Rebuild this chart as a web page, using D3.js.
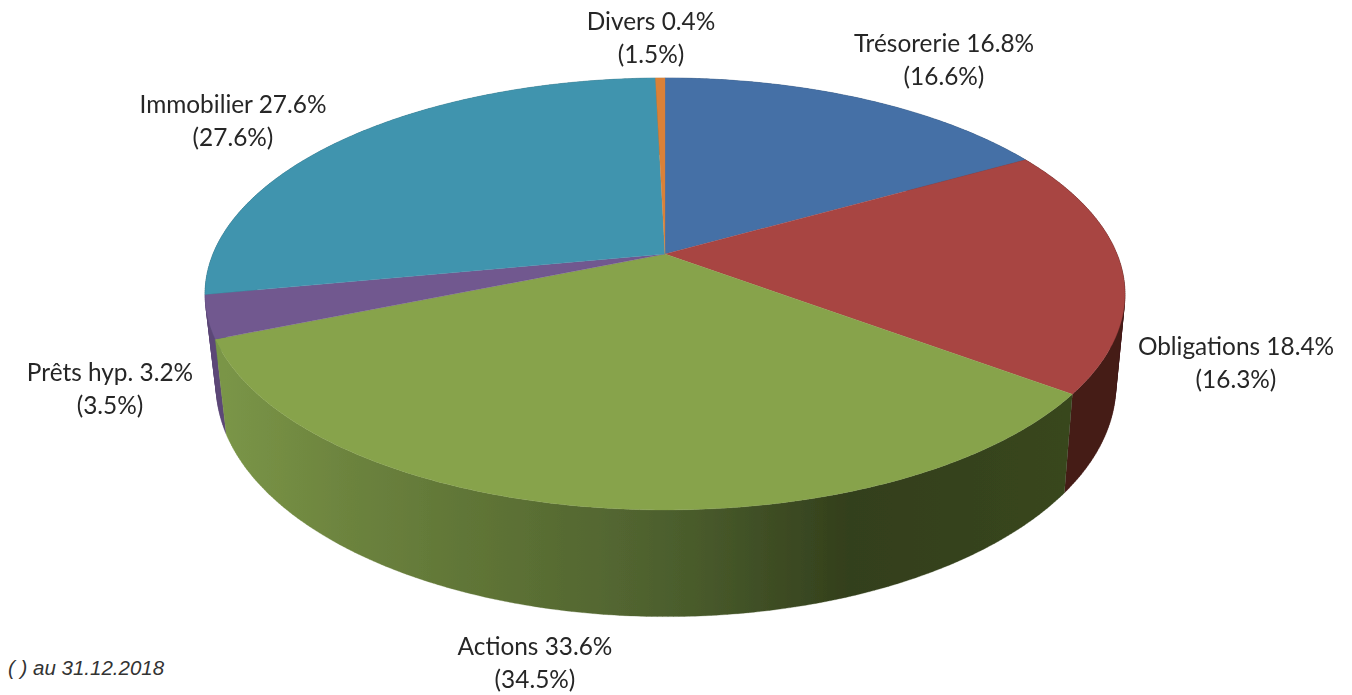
<!DOCTYPE html>
<html><head><meta charset="utf-8">
<script src="https://cdn.jsdelivr.net/npm/d3@7"></script>
<style>html,body{margin:0;padding:0;background:#fff;overflow:hidden}svg{display:block}</style>
</head><body><svg id="c" width="1352" height="695"></svg>
<script>
const categories = ["Trésorerie","Obligations","Actions","Prêts hyp.","Immobilier","Divers"];
const values2019 = [16.8,18.4,33.6,3.2,27.6,0.4];
const values2018 = [16.6,16.3,34.5,3.5,27.6,1.5];
const topColors = ["#4470a6","#a84442","#87a34c","#71588f","#4094ae","#da8137"];
const sideColors = ["#2a4466","#451c18",null,"#5c4778","#2a6070","#8a5020"];
const labelPos = [[944,43],[1236,346],[535,646],[110,372],[233,104],[651,21]];
const greenStops = [[225,"#7a9547"],[350,"#6c833e"],[500,"#5d7235"],[640,"#50632f"],[700,"#485a2b"],[850,"#333f1c"],[1063,"#38461f"]];

const W=1352,H=695, cx=665, p=0.185;
const topPlane={X:665,B:452,A:208.6,c:254}, botPlane={X:666,B:442,A:223,c:343};
const proj=(t,P)=>{const x=Math.sin(t),y=-Math.cos(t),w=1-p*y;return [P.X+P.B*x/w,P.c+P.A*y/w];};
const svg=d3.select("#c");
const defs=svg.append("defs");
const grad=defs.append("linearGradient").attr("id","g").attr("gradientUnits","userSpaceOnUse")
  .attr("x1",225).attr("x2",1063).attr("y1",0).attr("y2",0);
const gx=d3.scaleLinear().domain([225,1063]).range([0,100]);
grad.selectAll("stop").data(greenStops).join("stop").attr("offset",d=>gx(d[0])+"%").attr("stop-color",d=>d[1]);
defs.append("filter").attr("id","soft").append("feGaussianBlur").attr("stdDeviation",0.5);
defs.append("filter").attr("id","softText").append("feGaussianBlur").attr("stdDeviation",0.35);

const arcs=d3.pie().sort(null).startAngle(0).endAngle(2*Math.PI)(values2019);
const line=d3.line();
const sampled=(a,b)=>d3.range(0,1.0001,1/Math.max(2,Math.ceil((b-a)/0.01))).map(f=>a+(b-a)*f);

const root=svg.append("g").attr("filter","url(#soft)");
const order=[0,5,4,1,3,2];
root.append("g").selectAll("path").data(order).join("path")
 .attr("d",i=>{
   const a=arcs[i],ts=sampled(a.startAngle,a.endAngle);let s="";
   for(let k=0;k<ts.length-1;k++){
     let q=[proj(ts[k],topPlane),proj(ts[k+1],topPlane),proj(ts[k+1],botPlane),proj(ts[k],botPlane)];
     if(d3.polygonArea(q)<0)q.reverse();
     s+=line(q)+"Z";
   }
   return s;})
 .attr("fill",i=>sideColors[i]||"url(#g)")
 .attr("stroke",i=>sideColors[i]||"url(#g)").attr("stroke-width",0.3);
root.append("g").selectAll("path").data(arcs).join("path")
 .attr("d",a=>line([[cx,topPlane.c],...sampled(a.startAngle,a.endAngle).map(t=>proj(t,topPlane))])+"Z")
 .attr("fill",(a,i)=>topColors[i]).attr("stroke",(a,i)=>topColors[i]).attr("stroke-width",0.3);

const lab=svg.append("g").attr("filter","url(#softText)").attr("font-family","Lato, 'Open Sans', sans-serif").attr("font-size",24.4).attr("fill","#262626").attr("text-anchor","middle");
categories.forEach((c,i)=>{
  const [x,y]=labelPos[i];
  const t=lab.append("text").attr("x",x).attr("y",y+9);
  t.append("tspan").text(`${c} ${values2019[i].toFixed(1)}%`);
  t.append("tspan").attr("x",x).attr("dy",33).text(`(${values2018[i].toFixed(1)}%)`);
});
svg.append("text").attr("x",8).attr("y",675).attr("font-family","'Liberation Sans',Arial,sans-serif").attr("font-style","italic").attr("font-size",20.5).attr("fill","#333").text("( ) au 31.12.2018");
</script></body></html>
